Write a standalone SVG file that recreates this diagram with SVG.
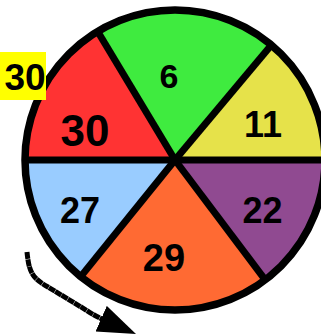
<svg xmlns="http://www.w3.org/2000/svg" width="321" height="334" viewBox="0 0 321 334">
<style>
.lbl{font-family:"Liberation Sans",Arial,sans-serif;font-weight:bold;text-anchor:middle;fill:#000}
.div{stroke:#000;stroke-width:7;stroke-linecap:butt}
</style>
<defs>
<marker id="ah" markerUnits="userSpaceOnUse" markerWidth="40" markerHeight="30" refX="2" refY="14" orient="auto">
<path d="M0,0 L38,14 L0,28 Z" fill="#000"/>
</marker>
</defs>
<rect width="321" height="334" fill="#fff"/>
<g id="wheel">
<g id="sector-11"><path d="M175,160 L325,160 A150,150 0 0 0 271.4,45.1 Z" fill="#E6E24A"/></g>
<g id="sector-6"><path d="M175,160 L271.4,45.1 A150,150 0 0 0 98,32 Z" fill="#3FEB3F"/></g>
<g id="sector-30"><path d="M175,160 L98,32 A150,150 0 0 0 25,160 Z" fill="#FF3333"/></g>
<g id="sector-27"><path d="M175,160 L25,160 A150,150 0 0 0 80.7,276.6 Z" fill="#99CCFF"/></g>
<g id="sector-29"><path d="M175,160 L80.7,276.6 A150,150 0 0 0 265.2,279.9 Z" fill="#FF6A33"/></g>
<g id="sector-22"><path d="M175,160 L265.2,279.9 A150,150 0 0 0 325,160 Z" fill="#904A91"/></g>
<circle cx="175" cy="160" r="150" fill="none" stroke="#000" stroke-width="7.5"/>
<g id="dividers">
<line class="div" x1="175" y1="160" x2="325" y2="160"/>
<line class="div" x1="175" y1="160" x2="271.4" y2="45.1"/>
<line class="div" x1="175" y1="160" x2="98" y2="32"/>
<line class="div" x1="175" y1="160" x2="25" y2="160"/>
<line class="div" x1="175" y1="160" x2="80.7" y2="276.6"/>
<line class="div" x1="175" y1="160" x2="265.2" y2="279.9"/>
</g>
<text class="lbl" x="169" y="88" font-size="34">6</text>
<text class="lbl" x="263" y="137" font-size="36">11</text>
<text class="lbl" x="262.5" y="223" font-size="36">22</text>
<text class="lbl" x="80" y="223" font-size="36">27</text>
<text class="lbl" x="164" y="271" font-size="38">29</text>
<text class="lbl" x="85" y="146" font-size="44">30</text>
</g>
<g id="current-label">
<rect x="0" y="52" width="46" height="48" fill="#FFFF00"/>
<text class="lbl" x="25" y="90" font-size="37">30</text>
</g>
<g id="connectors">
<path d="M27,252 C29,272 32,278 48,287 L86,310 Q95,316 103,319.5" fill="none" stroke="#000" stroke-width="5" stroke-dasharray="7 0.4" marker-end="url(#ah)"/>
</g>
</svg>
